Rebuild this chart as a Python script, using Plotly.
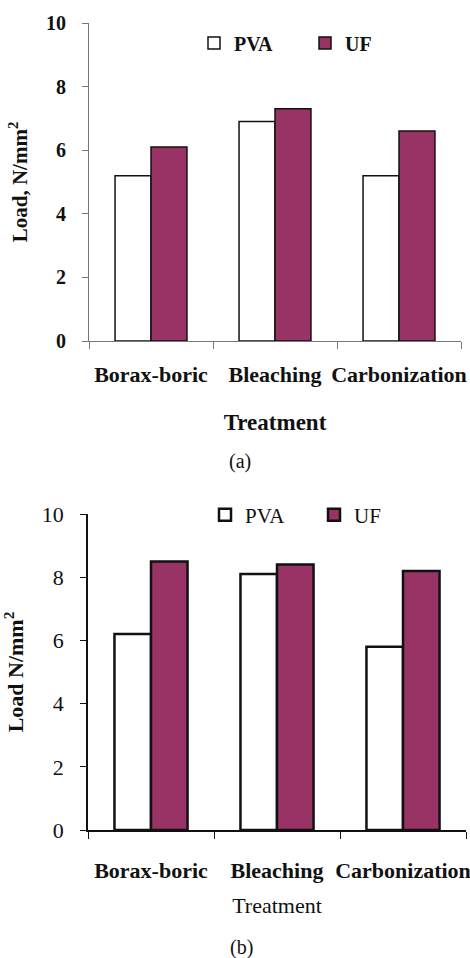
import plotly.graph_objects as go

treatments = ["Borax-boric", "Bleaching", "Carbonization"]
pva_a = [5.2, 6.9, 5.2]
uf_a = [6.1, 7.3, 6.6]
pva_b = [6.2, 8.1, 5.8]
uf_b = [8.5, 8.4, 8.2]
y_ticks = [0, 2, 4, 6, 8, 10]

W, H = 470, 958
PURPLE = "#993366"
FONT = "Liberation Serif"


def px(x):
    return x / W


def py(y):
    return 1 - y / H


fig = go.Figure()
fig.add_bar(x=treatments, y=pva_a, name="PVA", xaxis="x", yaxis="y", legend="legend",
            marker=dict(color="white", line=dict(color="#111", width=1.5)))
fig.add_bar(x=treatments, y=uf_a, name="UF", xaxis="x", yaxis="y", legend="legend",
            marker=dict(color=PURPLE, line=dict(color="#111", width=1.5)))
fig.add_bar(x=treatments, y=pva_b, name="PVA", xaxis="x2", yaxis="y2", legend="legend2",
            marker=dict(color="white", line=dict(color="#111", width=2.5)))
fig.add_bar(x=treatments, y=uf_b, name="UF", xaxis="x2", yaxis="y2", legend="legend2",
            marker=dict(color=PURPLE, line=dict(color="#111", width=2.5)))

common_x = dict(type="category", range=[-0.5, 2.5], showline=True, ticks="outside",
                tickson="boundaries", tickangle=0, showgrid=False, zeroline=False,
                automargin=False)
common_y = dict(range=[0, 10], tickvals=y_ticks, showline=True, ticks="outside",
                showgrid=False, zeroline=False, automargin=False)

fig.update_layout(
    width=W, height=H, margin=dict(l=0, r=0, t=0, b=0),
    paper_bgcolor="white", plot_bgcolor="white",
    barmode="group", bargap=0.42, bargroupgap=0,
    font=dict(family=FONT, color="#111"),
    xaxis=dict(common_x, domain=[px(89), px(461)], anchor="y",
               linecolor="#777", linewidth=1, tickcolor="#777", ticklen=7,
               tickfont=dict(size=22, weight="bold"), ticklabelstandoff=14,
               title=dict(text="Treatment", font=dict(size=23, weight="bold"), standoff=27)),
    yaxis=dict(common_y, domain=[py(341), py(23)], anchor="x",
               linecolor="#777", linewidth=1, tickcolor="#777", ticklen=6,
               tickfont=dict(size=20, weight="bold"), ticklabelstandoff=12,
               title=dict(text="Load, N/mm<sup>2</sup>", font=dict(size=21, weight="bold"), standoff=12)),
    xaxis2=dict(common_x, domain=[px(88), px(466)], anchor="y2",
                linecolor="#111", linewidth=1.5, tickcolor="#111", ticklen=7,
                tickfont=dict(size=22, weight="bold"), ticklabelstandoff=20,
                title=dict(text="Treatment", font=dict(size=22), standoff=15)),
    yaxis2=dict(common_y, domain=[py(830), py(514)], anchor="x2",
                linecolor="#111", linewidth=1.5, tickcolor="#111", ticklen=6,
                tickfont=dict(size=22), ticklabelstandoff=12,
                title=dict(text="Load N/mm<sup>2</sup>", font=dict(size=22, weight="bold"), standoff=14)),
    legend=dict(orientation="h", x=px(194), xanchor="left", y=py(43), yanchor="middle",
                font=dict(size=20, weight="bold"), entrywidth=66,
                bgcolor="rgba(0,0,0,0)"),
    legend2=dict(orientation="h", x=px(205), xanchor="left", y=py(515), yanchor="middle",
                 font=dict(size=21), entrywidth=64,
                 bgcolor="rgba(0,0,0,0)"),
    annotations=[
        dict(text="(a)", x=px(240), y=py(462), xref="paper", yref="paper",
             showarrow=False, font=dict(size=20, family=FONT), xanchor="center", yanchor="middle"),
        dict(text="(b)", x=px(242), y=py(947), xref="paper", yref="paper",
             showarrow=False, font=dict(size=20, family=FONT), xanchor="center", yanchor="middle"),
    ],
)

fig.write_html("out.html", config={"displayModeBar": False},
               post_script="document.body.style.margin='0';")
